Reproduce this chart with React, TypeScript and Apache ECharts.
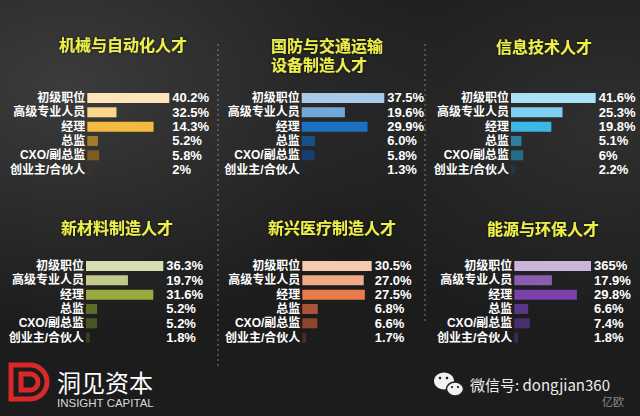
import React, { useEffect, useRef } from "react";
import * as echarts from "echarts";

const categories = ["初级职位", "高级专业人员", "经理", "总监", "CXO/副总监", "创业主/合伙人"];

const panelTitles = [
  ["机械与自动化人才"],
  ["国防与交通运输", "设备制造人才"],
  ["信息技术人才"],
  ["新材料制造人才"],
  ["新兴医疗制造人才"],
  ["能源与环保人才"],
];

// bar lengths as drawn in the picture
const mechValues = [40.2, 14.3, 32.5, 5.2, 5.8, 2.0];
const defenseValues = [37.5, 19.6, 29.9, 6.0, 5.8, 1.3];
const itValues = [41.6, 25.3, 19.8, 5.1, 6.0, 2.2];
const materialValues = [36.3, 19.7, 31.6, 5.2, 5.2, 1.8];
const medicalValues = [30.5, 27.0, 27.5, 6.8, 6.6, 1.7];
const energyValues = [36.5, 17.9, 29.8, 6.6, 7.4, 1.8];

// value texts as printed in the picture
const mechLabels = ["40.2%", "32.5%", "14.3%", "5.2%", "5.8%", "2%"];
const defenseLabels = ["37.5%", "19.6%", "29.9%", "6.0%", "5.8%", "1.3%"];
const itLabels = ["41.6%", "25.3%", "19.8%", "5.1%", "6%", "2.2%"];
const materialLabels = ["36.3%", "19.7%", "31.6%", "5.2%", "5.2%", "1.8%"];
const medicalLabels = ["30.5%", "27.0%", "27.5%", "6.8%", "6.6%", "1.7%"];
const energyLabels = ["365%", "17.9%", "29.8%", "6.6%", "7.4%", "1.8%"];

const panelValues = [mechValues, defenseValues, itValues, materialValues, medicalValues, energyValues];
const panelLabels = [mechLabels, defenseLabels, itLabels, materialLabels, medicalLabels, energyLabels];

const panelColors = [
  ["#fde4bb", "#fbd58c", "#f4b93f", "#a47c2c", "#7c5d22", "#3d3320"],
  ["#a9c9ea", "#70a8d9", "#1c70c2", "#17518c", "#134070", "#0f2b46"],
  ["#aae1f6", "#7dd0ef", "#3cb6e3", "#2c80a1", "#286b86", "#1b3a48"],
  ["#d7ddb2", "#c1c98b", "#9ba941", "#5f6b2b", "#4b5625", "#3a4020"],
  ["#f6cab1", "#f0aa88", "#e87b49", "#a9553b", "#8b4531", "#4b2b23"],
  ["#cab4da", "#8b5db1", "#7b40a9", "#5b3686", "#4b2e71", "#3b2b51"],
];

const layouts = [
  { left: 87.3, top: 90.8, width: 82, tx: 59, ty: 45 },
  { left: 301.7, top: 90.8, width: 82.6, tx: 271, ty: 46.5 },
  { left: 511, top: 90.8, width: 84.7, tx: 496, ty: 47 },
  { left: 86, top: 258.8, width: 77.3, tx: 61, ty: 228 },
  { left: 302.3, top: 258.8, width: 69.4, tx: 268, ty: 228 },
  { left: 514.3, top: 258.8, width: 76.7, tx: 487, ty: 229 },
];

const CJK = '"Noto Sans CJK SC", "Noto Sans", sans-serif';
const LAT = '"Liberation Sans", Arial, "Noto Sans CJK SC", sans-serif';

echarts.graphic.registerShape(
  "dlogo",
  echarts.graphic.extendPath(
    "M3,3 L22,3 A17,17 0 0 1 22,37 L3,37 Z M13,12 L22,12 A8,8 0 0 1 22,28 L13,28 Z",
    {}
  )
);

export default function App() {
  const ref = useRef<HTMLDivElement>(null);
  useEffect(() => {
    document.body.style.margin = "0";
    const chart = echarts.init(ref.current!, null, { renderer: "svg" });

    const grid = layouts.map((l) => ({ left: l.left, top: l.top, width: l.width, height: 86 }));
    const xAxis = layouts.map((_, i) => ({
      type: "value",
      gridIndex: i,
      min: 0,
      max: "dataMax",
      show: false,
    }));
    const yAxis: any[] = [];
    layouts.forEach((_, i) => {
      yAxis.push({
        type: "category",
        gridIndex: i,
        data: categories,
        inverse: true,
        axisLine: { show: false },
        axisTick: { show: false },
        axisLabel: {
          interval: 0,
          color: "#ffffff",
          fontSize: 12,
          lineHeight: 13,
          fontWeight: "bold",
          margin: 2,
          fontFamily: LAT,
        },
      });
      yAxis.push({
        type: "category",
        gridIndex: i,
        position: "right",
        data: panelLabels[i],
        inverse: true,
        axisLine: { show: false },
        axisTick: { show: false },
        axisLabel: {
          interval: 0,
          color: "#ffffff",
          fontSize: 13,
          lineHeight: 13,
          fontWeight: "bold",
          margin: 3,
          fontFamily: LAT,
        },
      });
    });
    const series = layouts.map((_, i) => ({
      type: "bar",
      xAxisIndex: i,
      yAxisIndex: i * 2,
      barWidth: 10,
      silent: true,
      data: panelValues[i].map((v, j) => ({ value: v, itemStyle: { color: panelColors[i][j] } })),
    }));

    const titles: any[] = [];
    layouts.forEach((l, i) => {
      panelTitles[i].forEach((line, k) => {
        titles.push({
          type: "text",
          z: 5,
          style: {
            text: line,
            x: l.tx,
            y: l.ty + k * 19,
            fill: "#eef04a",
            fontSize: 16,
            fontWeight: "bold",
            fontFamily: LAT,
            verticalAlign: "middle",
            textShadowColor: "rgba(0,0,0,0.7)",
            textShadowBlur: 3,
          },
        });
      });
    });

    const graphic: any[] = [
      {
        type: "rect",
        z: -10,
        silent: true,
        shape: { x: 0, y: 0, width: 640, height: 416 },
        style: {
          fill: new echarts.graphic.RadialGradient(0.1, 0.2, 0.6, [
            { offset: 0, color: "rgba(70,70,70,0.75)" },
            { offset: 1, color: "rgba(70,70,70,0)" },
          ]),
        },
      },
      {
        type: "rect",
        z: -9,
        silent: true,
        shape: { x: 0, y: 0, width: 640, height: 416 },
        style: {
          fill: new echarts.graphic.RadialGradient(0.95, 0.3, 0.5, [
            { offset: 0, color: "rgba(60,60,60,0.6)" },
            { offset: 1, color: "rgba(60,60,60,0)" },
          ]),
        },
      },
      {
        type: "line",
        z: 2,
        silent: true,
        shape: { x1: 218, y1: 44, x2: 218, y2: 366 },
        style: { stroke: "rgba(210,210,210,0.55)", lineWidth: 1, lineDash: [2, 3] },
      },
      {
        type: "line",
        z: 2,
        silent: true,
        shape: { x1: 425, y1: 44, x2: 425, y2: 322 },
        style: { stroke: "rgba(210,210,210,0.55)", lineWidth: 1, lineDash: [2, 3] },
      },
      ...titles,
      {
        type: "dlogo",
        x: 8,
        y: 362,
        z: 5,
        silent: true,
        style: { fill: "none", stroke: "#d8282a", lineWidth: 5 },
      },
      {
        type: "text",
        z: 5,
        style: {
          text: "洞见资本",
          x: 57,
          y: 381,
          fill: "#ffffff",
          fontSize: 24,
          fontFamily: CJK,
          verticalAlign: "middle",
        },
      },
      {
        type: "text",
        z: 5,
        style: {
          text: "INSIGHT CAPITAL",
          x: 57,
          y: 403,
          fill: "#d8d8d8",
          fontSize: 11.5,
          fontFamily: LAT,
          verticalAlign: "middle",
        },
      },
      {
        type: "ellipse",
        z: 5,
        silent: true,
        shape: { cx: 444, cy: 381, rx: 10, ry: 8.5 },
        style: { fill: "#f2f2f2" },
      },
      {
        type: "ellipse",
        z: 6,
        silent: true,
        shape: { cx: 455, cy: 389, rx: 8.5, ry: 7 },
        style: { fill: "#f2f2f2", stroke: "#222", lineWidth: 1.5 },
      },
      { type: "circle", z: 7, silent: true, shape: { cx: 440, cy: 378, r: 1.3 }, style: { fill: "#222" } },
      { type: "circle", z: 7, silent: true, shape: { cx: 447, cy: 378, r: 1.3 }, style: { fill: "#222" } },
      { type: "circle", z: 7, silent: true, shape: { cx: 452, cy: 387, r: 1.1 }, style: { fill: "#222" } },
      { type: "circle", z: 7, silent: true, shape: { cx: 458, cy: 387, r: 1.1 }, style: { fill: "#222" } },
      {
        type: "text",
        z: 5,
        style: {
          text: "微信号: dongjian360",
          x: 470,
          y: 384,
          fill: "#ececec",
          fontSize: 15,
          fontFamily: CJK,
          verticalAlign: "middle",
        },
      },
      {
        type: "text",
        z: 5,
        style: {
          text: "亿欧",
          x: 602,
          y: 401,
          fill: "#8a8a8a",
          fontSize: 11,
          fontFamily: CJK,
          verticalAlign: "middle",
        },
      },
    ];

    chart.setOption({
      animation: false,
      backgroundColor: "#1c1c1c",
      grid,
      xAxis,
      yAxis,
      series,
      graphic,
    } as any);
    return () => chart.dispose();
  }, []);
  return (
    <div
      ref={ref}
      style={{ width: 640, height: 416, position: "fixed", left: 0, top: 0 }}
    />
  );
}
